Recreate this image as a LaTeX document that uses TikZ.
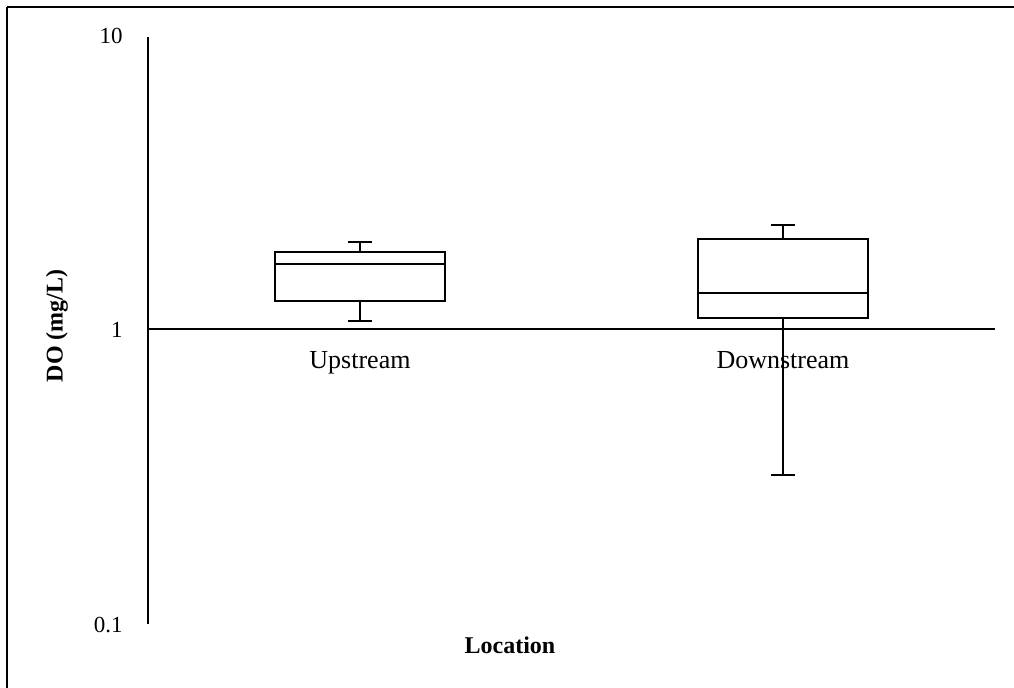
\documentclass[tikz,border=0pt]{standalone}
\usepackage{fontspec}
\setmainfont{Liberation Serif}
\usetikzlibrary{positioning}
\tikzset{
  frame_left/.style={line width=1.2pt, black},
  frame_top/.style={line width=0.7pt, black},
  axis_line/.style={line width=0.75pt, black},
  box_style/.style={line width=0.9pt, black},
  whisker/.style={line width=0.9pt, black},
  tick_label/.style={font=\fontsize{11.5}{13}\selectfont, inner sep=0pt, anchor=east},
  cat_label/.style={font=\fontsize{13}{15}\selectfont, inner sep=0pt, anchor=base},
  axis_title/.style={font=\fontsize{12}{14}\selectfont\bfseries, inner sep=0pt}
}

\begin{document}
\begin{tikzpicture}[x=0.5pt, y=-0.5pt]
    \useasboundingbox (0,0) rectangle (1014,688);

    % outer frame, only left and top edges show
    \draw[frame_left] (7,700) -- (7,7);
    \draw[frame_top] (7,7) -- (1020,7);

    % axes (log scale, one decade = 292.5)
    \coordinate (y_top) at (148,37);
    \coordinate (y_bot) at (148,624);
    \coordinate (x_left) at (148,329);
    \coordinate (x_right) at (995,329);
    \draw[axis_line] (y_top) -- (y_bot);
    \draw[axis_line] (x_left) -- (x_right);

    % tick labels
    \node[tick_label] (tick_ten) at (123,36) {10};
    \node[tick_label] (tick_one) at (123,330) {1};
    \node[tick_label] (tick_tenth) at (123,625) {0.1};

    % axis titles
    \node[axis_title, rotate=90] (y_title) at (57,326) {DO (mg/L)};
    \node[axis_title] (x_title) at (510,645) {Location};

    % Upstream box
    \coordinate (up_max) at (360,242);
    \coordinate (up_min) at (360,321);
    \draw[box_style] (275,252) rectangle (445,301);
    \draw[box_style] (275,264) -- (445,264);
    \draw[whisker] (360,252) -- (up_max);
    \draw[whisker] (360,301) -- (up_min);
    \draw[whisker] ([xshift=-6]up_max) -- ([xshift=6]up_max);
    \draw[whisker] ([xshift=-6]up_min) -- ([xshift=6]up_min);

    % Downstream box
    \coordinate (down_max) at (783,225);
    \coordinate (down_min) at (783,475);
    \draw[box_style] (698,239) rectangle (868,318);
    \draw[box_style] (698,293) -- (868,293);
    \draw[whisker] (783,239) -- (down_max);
    \draw[whisker] (783,318) -- (down_min);
    \draw[whisker] ([xshift=-6]down_max) -- ([xshift=6]down_max);
    \draw[whisker] ([xshift=-6]down_min) -- ([xshift=6]down_min);

    % category labels, on one baseline
    \node[cat_label] (up_label) at (360,369) {Upstream};
    \node[cat_label] (down_label) at (783,369) {Downstream};
\end{tikzpicture}
\end{document}
